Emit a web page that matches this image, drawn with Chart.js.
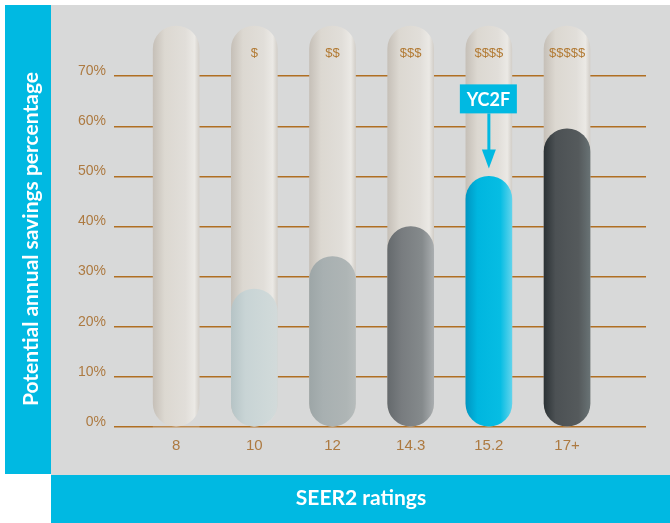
<!DOCTYPE html>
<html><head><meta charset="utf-8">
<script src="https://cdn.jsdelivr.net/npm/chart.js@4/dist/chart.umd.min.js"></script>
<style>html,body{margin:0;padding:0;background:#fff;}canvas{display:block;}</style>
</head><body>
<canvas id="c" width="670" height="523"></canvas>
<script>
// ---- data ----
const categories = ['8', '10', '12', '14.3', '15.2', '17+'];
const savings = [0, 27.5, 34, 40, 50, 59.5];
const priceTiers = ['', '$', '$$', '$$$', '$$$$', '$$$$$'];
const yTickValues = [0, 10, 20, 30, 40, 50, 60, 70];
const rangeTop = 80;
const highlightIndex = 4;
const highlightLabel = 'YC2F';
const yTitle = 'Potential annual savings percentage';
const xTitle = 'SEER2 ratings';

// ---- styles ----
const BLUE = '#00b9e2';
const GRAY_BG = '#d8d9d9';
const BROWN_LINE = '#b06f22';
const BROWN_TEXT = '#ad7a41';
const capsuleStops = [[0, '#c6c0b8'], [0.25, '#dcd8d1'], [0.7, '#e1ded9'], [0.9, '#ebe9e5'], [1, '#d3cfc9']];
const valueStops = [
  [[0, '#d8d3cc'], [1, '#e6e3de']],
  [[0, '#b6c4c6'], [0.3, '#c8d4d5'], [0.8, '#cfd9d9'], [1, '#d2dada']],
  [[0, '#9da6a7'], [0.3, '#a8b0b1'], [0.8, '#aeb5b5'], [1, '#b6bcbc']],
  [[0, '#656a6d'], [0.3, '#787c7f'], [0.75, '#858a8c'], [1, '#a9adaf']],
  [[0, '#0096c2'], [0.25, '#00b6df'], [0.75, '#06bde3'], [1, '#5fd3ec']],
  [[0, '#2c3336'], [0.25, '#4c5154'], [0.75, '#555a5c'], [1, '#687274']]
];
const HALF = 23;

function gradientFor(getStops) {
  return function (ctx) {
    const stops = getStops(ctx.dataIndex || 0);
    const flat = stops[Math.floor(stops.length / 2)][1];
    if (ctx.type !== 'data') return flat;
    const xs = ctx.chart.scales.x;
    if (!xs) return flat;
    const cx = xs.getPixelForValue(ctx.dataIndex);
    if (!isFinite(cx)) return flat;
    const g = ctx.chart.ctx.createLinearGradient(cx - HALF, 0, cx + HALF, 0);
    stops.forEach(s => g.addColorStop(s[0], s[1]));
    return g;
  };
}

const decor = {
  id: 'decor',
  beforeDraw(chart) {
    const c = chart.ctx;
    c.save();
    c.fillStyle = '#ffffff'; c.fillRect(0, 0, 670, 523);
    c.fillStyle = GRAY_BG; c.fillRect(51, 5, 619, 470);
    c.fillStyle = BLUE; c.fillRect(5, 5, 46, 469);
    c.fillRect(51, 475, 619, 48);
    c.restore();
  },
  afterDatasetsDraw(chart) {
    const c = chart.ctx, xs = chart.scales.x, ys = chart.scales.y;
    c.save();
    // price tiers
    c.fillStyle = '#b27a33';
    c.font = '13px "Liberation Sans", Arial, sans-serif';
    c.textAlign = 'center'; c.textBaseline = 'middle';
    priceTiers.forEach((t, i) => { if (t) c.fillText(t, xs.getPixelForValue(i), ys.getPixelForValue(74.6)); });
    // callout
    const hx = xs.getPixelForValue(highlightIndex);
    const barTop = ys.getPixelForValue(savings[highlightIndex]);
    const tipY = barTop - 8, boxBottom = barTop - 63, boxTop = boxBottom - 29;
    c.fillStyle = BLUE;
    c.fillRect(hx - 29, boxTop, 57, 29);
    c.strokeStyle = BLUE; c.lineWidth = 3;
    c.beginPath(); c.moveTo(hx, boxBottom); c.lineTo(hx, tipY - 16); c.stroke();
    c.beginPath(); c.moveTo(hx - 7, tipY - 19); c.lineTo(hx + 7, tipY - 19); c.lineTo(hx, tipY); c.closePath(); c.fill();
    c.fillStyle = '#ffffff';
    c.font = 'bold 18px Lato, "Open Sans", sans-serif';
    c.fillText(highlightLabel, hx - 0.5, (boxTop + boxBottom) / 2 + 1);
    // titles
    c.font = 'bold 21px Lato, "Open Sans", sans-serif';
    c.fillText(xTitle, 361, 498);
    c.translate(31, 239); c.rotate(-Math.PI / 2);
    c.fillText(yTitle, 0, 0);
    c.restore();
  }
};

new Chart(document.getElementById('c'), {
  type: 'bar',
  data: {
    datasets: [
      {
        label: 'Savings',
        data: savings.map((v, i) => ({ x: i, y: v })),
        backgroundColor: gradientFor(i => valueStops[i]),
        borderSkipped: false, borderRadius: HALF, barThickness: 2 * HALF,
        grouped: false, order: 1, clip: false
      },
      {
        label: 'Range',
        data: categories.map((c, i) => ({ x: i, y: rangeTop })),
        backgroundColor: gradientFor(() => capsuleStops),
        borderSkipped: false, borderRadius: HALF, barThickness: 2 * HALF,
        grouped: false, order: 2, clip: false
      }
    ]
  },
  options: {
    responsive: false, animation: false, devicePixelRatio: 1,
    layout: { padding: { left: 0, top: 26, right: 24, bottom: 0 } },
    plugins: { legend: { display: false }, tooltip: { enabled: false } },
    scales: {
      x: {
        type: 'linear', min: -0.795, max: 6.01, offset: false,
        afterBuildTicks: s => { s.ticks = categories.map((c, i) => ({ value: i })); },
        afterFit: s => { s.height = 96; },
        grid: { display: false, offset: false }, border: { display: false },
        ticks: {
          callback: v => categories[v], color: BROWN_TEXT, padding: 2, maxRotation: 0, autoSkip: false,
          font: { family: '"Liberation Sans", Arial, sans-serif', size: 15 }
        }
      },
      y: {
        min: 0, max: rangeTop,
        afterBuildTicks: s => { s.ticks = yTickValues.map(v => ({ value: v })); },
        afterFit: s => { s.width = 114; },
        grid: { color: BROWN_LINE, lineWidth: 1.5, drawTicks: false },
        border: { display: false },
        ticks: {
          callback: v => v + '%', color: BROWN_TEXT, padding: 8, labelOffset: -5,
          font: { family: '"Liberation Sans", Arial, sans-serif', size: 14 }
        }
      }
    }
  },
  plugins: [decor]
});
</script>
</body></html>
